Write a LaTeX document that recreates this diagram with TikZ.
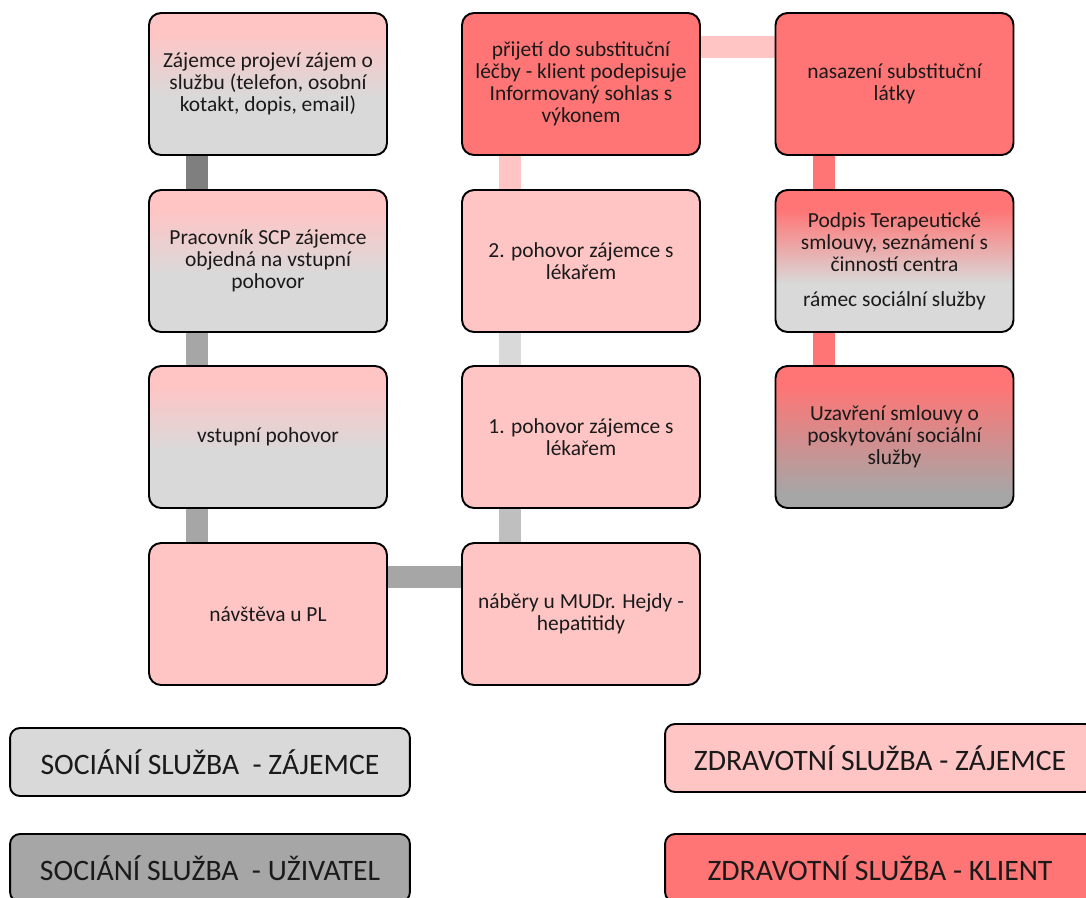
\documentclass[tikz,border=0pt]{standalone}
\usepackage{fontspec}
\setmainfont{Carlito}
\usetikzlibrary{calc,backgrounds}
\definecolor{SocZajem}{HTML}{D9D9D9}
\definecolor{SocUziv}{HTML}{A6A6A6}
\definecolor{ZdrZajem}{HTML}{FFC5C5}
\definecolor{ZdrKlient}{HTML}{FF7575}
\definecolor{LinkDark}{HTML}{7F7F7F}
\definecolor{LinkMid}{HTML}{A6A6A6}
\definecolor{LinkSoft}{HTML}{BFBFBF}
\definecolor{LinkPale}{HTML}{D9D9D9}
\definecolor{InkDark}{HTML}{1A1A1A}
% top colour kept flat from 68bp up, so the box top is fully coloured
\pgfdeclareverticalshading{socgrad}{100bp}{color(0bp)=(SocZajem); color(45bp)=(SocZajem);
  color(68bp)=(ZdrZajem); color(100bp)=(ZdrZajem)}
\pgfdeclareverticalshading{podgrad}{100bp}{color(0bp)=(SocZajem); color(42bp)=(SocZajem);
  color(68bp)=(ZdrKlient); color(100bp)=(ZdrKlient)}
\pgfdeclareverticalshading{uzagrad}{100bp}{color(0bp)=(SocUziv); color(30bp)=(SocUziv);
  color(68bp)=(ZdrKlient); color(100bp)=(ZdrKlient)}
\tikzset{
  krok/.style={rectangle, rounded corners=0.24cm, draw=black, line width=1.1pt,
               minimum width=4.76cm, minimum height=2.84cm, align=center,
               inner sep=2pt, text=InkDark, font=\fontsize{12.2}{12.6}\selectfont},
  socz/.style={krok, shading=socgrad},
  zdrz/.style={krok, fill=ZdrZajem},
  zdrk/.style={krok, fill=ZdrKlient},
  link/.style={line width=0.44cm},
  legbox/.style={rectangle, rounded corners=0.2cm, draw=black, line width=1.1pt,
                 minimum width=8cm, minimum height=1.36cm, text=InkDark,
                 font=\fontsize{16.9}{20}\selectfont},
}

\begin{document}
\begin{tikzpicture}[x=0.02cm, y=-0.02cm]
\useasboundingbox (0,0) rectangle (1086,897);
% ---------------------------------------------------------------- column 1
\node[socz] (zajem) at (268,84) {Zájemce projeví zájem o\\službu (telefon, osobní\\kotakt, dopis, email)};
\node[socz] (objed) at (268,261) {Pracovník SCP zájemce\\objedná na vstupní\\pohovor};
\node[socz] (vstup) at (268,437) {vstupní pohovor};
\node[zdrz] (navst) at (268,614) {návštěva u PL};
% ---------------------------------------------------------------- column 2
\node[zdrz] (nabery) at (581,614) {náběry u MUDr. Hejdy -\\hepatitidy};
\node[zdrz] (poh1) at (581,437) {1. pohovor zájemce s\\lékařem};
\node[zdrz] (poh2) at (581,261) {2. pohovor zájemce s\\lékařem};
\node[zdrk] (prijeti) at (581,84) {přijetí do substituční\\léčby - klient podepisuje\\Informovaný sohlas s\\výkonem};
% ---------------------------------------------------------------- column 3
\node[zdrk] (nasaz) at (894.5,84) {nasazení substituční\\látky};
\node[krok, shading=podgrad] (podpis) at (894.5,261)
  {Podpis Terapeutické\\smlouvy, seznámení s\\činností centra\\[0.26cm]rámec sociální služby};
\node[krok, shading=uzagrad] (uzavr) at (894.5,437) {Uzavření smlouvy o\\poskytování sociální\\služby};
% ---------------------------------------------------------------- links
\begin{scope}[on background layer]
  \draw[link, LinkDark] ($(zajem.south west)+(49,0)$) -- ($(objed.north west)+(49,0)$);
  \draw[link, LinkMid] ($(objed.south west)+(49,0)$) -- ($(vstup.north west)+(49,0)$);
  \draw[link, LinkMid] ($(vstup.south west)+(49,0)$) -- ($(navst.north west)+(49,0)$);
  \draw[link, LinkMid] ($(navst.north east)+(0,35)$) -- ($(nabery.north west)+(0,35)$);
  \draw[link, LinkSoft] ($(nabery.north west)+(49,0)$) -- ($(poh1.south west)+(49,0)$);
  \draw[link, LinkPale] ($(poh1.north west)+(49,0)$) -- ($(poh2.south west)+(49,0)$);
  \draw[link, ZdrZajem] ($(poh2.north west)+(49,0)$) -- ($(prijeti.south west)+(49,0)$);
  \draw[link, ZdrZajem] ($(prijeti.north east)+(0,34.5)$) -- ($(nasaz.north west)+(0,34.5)$);
  \draw[link, ZdrKlient] ($(nasaz.south west)+(49,0)$) -- ($(podpis.north west)+(49,0)$);
  \draw[link, ZdrKlient] ($(podpis.south west)+(49,0)$) -- ($(uzavr.north west)+(49,0)$);
\end{scope}
% ---------------------------------------------------------------- legend
\node[legbox, fill=SocZajem] (legSZ) at (210,762) {SOCIÁNÍ SLUŽBA\ \ - ZÁJEMCE};
\node[legbox, fill=SocUziv] (legSU) at (210,868) {SOCIÁNÍ SLUŽBA\ \ - UŽIVATEL};
\node[legbox, fill=ZdrZajem, minimum width=8.6cm] (legZZ) at (880,758) {ZDRAVOTNÍ SLUŽBA - ZÁJEMCE};
\node[legbox, fill=ZdrKlient, minimum width=8.6cm] (legZK) at (880,868) {ZDRAVOTNÍ SLUŽBA - KLIENT};
\end{tikzpicture}
\end{document}
